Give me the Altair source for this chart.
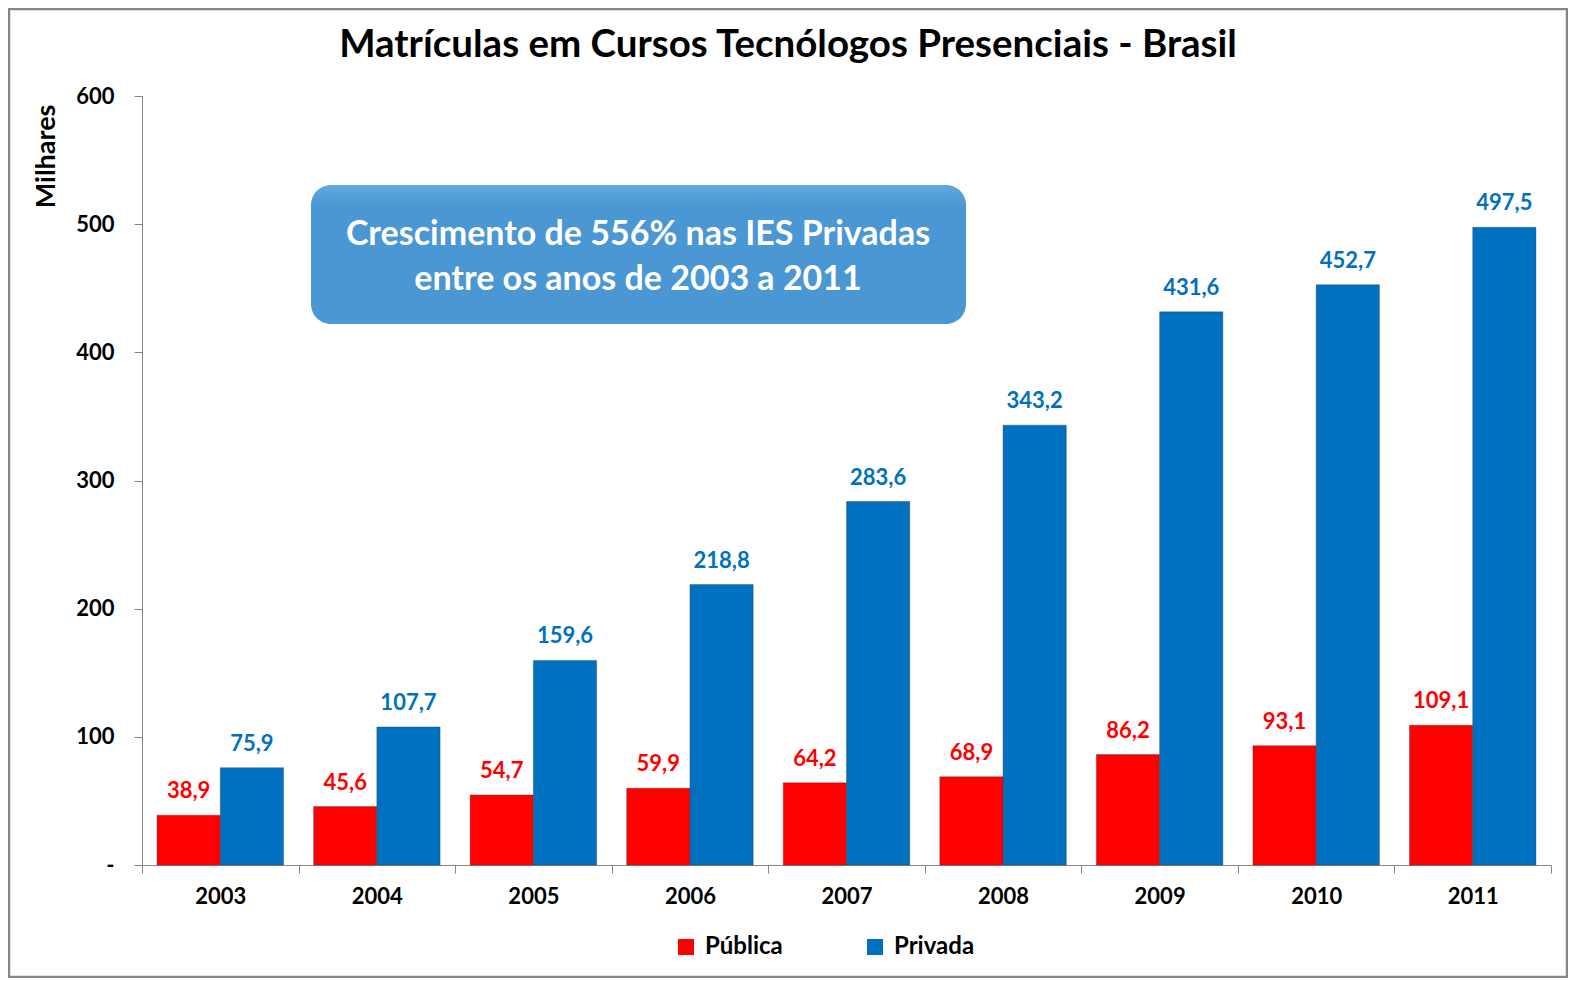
import altair as alt
import pandas as pd

years = ["2003", "2004", "2005", "2006", "2007", "2008", "2009", "2010", "2011"]
publica = [38.9, 45.6, 54.7, 59.9, 64.2, 68.9, 86.2, 93.1, 109.1]
privada = [75.9, 107.7, 159.6, 218.8, 283.6, 343.2, 431.6, 452.7, 497.5]
series = ["Pública", "Privada"]
colors = ["#FF0000", "#0070C0"]
y_ticks = [0, 100, 200, 300, 400, 500, 600]
title_text = "Matrículas em Cursos Tecnólogos Presenciais - Brasil"
note_lines = ["Crescimento de 556% nas IES Privadas", "entre os anos de 2003 a 2011"]

rows = []
for i, yr in enumerate(years):
    for s, vals in zip(series, [publica, privada]):
        rows.append({"ano": yr, "serie": s, "valor": vals[i],
                     "rotulo": f"{vals[i]:.1f}".replace(".", ",")})
df = pd.DataFrame(rows)

FONT = "Lato"
W, H = 1409, 769
AXC = "#868686"

x = alt.X("ano:N", sort=years, title=None,
          scale=alt.Scale(paddingInner=0, paddingOuter=0),
          axis=alt.Axis(labelAngle=0, tickBand="extent", tickSize=8, domainColor=AXC,
                        tickColor=AXC, labelFontSize=22, labelFontWeight="bold",
                        labelColor="black", labelPadding=13, labelFont=FONT))
y = alt.Y("valor:Q", scale=alt.Scale(domain=[0, 600], nice=False),
          axis=alt.Axis(values=y_ticks, labelExpr="datum.value == 0 ? '-' : datum.label",
                        grid=False, tickSize=8, domainColor=AXC, tickColor=AXC,
                        labelFontSize=22, labelFontWeight="bold", labelColor="black",
                        labelPadding=20, labelFont=FONT,
                        title="Milhares", titleFont=FONT, titleFontSize=27,
                        titleFontWeight="bold", titleColor="black", titleAngle=-90,
                        titleX=-96, titleY=8, titleAlign="right", titleBaseline="middle"))
xoff = alt.XOffset("serie:N", scale=alt.Scale(domain=series, paddingInner=0, paddingOuter=0.2375))

base = alt.Chart(df)
bars = base.mark_bar(strokeWidth=1, strokeOpacity=0.35, stroke="#333333").encode(
    x=x, y=y, xOffset=xoff,
    color=alt.Color("serie:N", scale=alt.Scale(domain=series, range=colors),
                    legend=alt.Legend(title=None, orient="none", legendX=532, legendY=839,
                                      direction="horizontal", symbolType="square",
                                      symbolSize=256, symbolStrokeWidth=0,
                                      labelFont=FONT, labelFontSize=24,
                                      labelFontWeight="bold", labelColor="black",
                                      columnPadding=80, labelOffset=7)),
)
labels = base.mark_text(baseline="alphabetic", dy=-17, fontSize=22, fontWeight="bold",
                        font=FONT).encode(
    x=x, y=y, xOffset=xoff, text="rotulo:N",
    color=alt.condition(alt.datum.serie == "Pública", alt.value(colors[0]), alt.value(colors[1])),
)

one = pd.DataFrame({"k": [0]})
box = alt.Chart(one).mark_rect(
    cornerRadius=20,
    color=alt.Gradient(gradient="linear", x1=0, x2=0, y1=0, y2=1,
                       stops=[alt.GradientStop(color="#62A9DD", offset=0),
                              alt.GradientStop(color="#4A97D3", offset=0.15),
                              alt.GradientStop(color="#4A97D3", offset=1)])
).encode(x=alt.value(169), x2=alt.value(824), y=alt.value(89), y2=alt.value(228))
note1 = alt.Chart(one).mark_text(text=note_lines[0], font=FONT, fontSize=34, fontWeight="bold",
                                 color="white", baseline="middle", align="center").encode(
    x=alt.value(496), y=alt.value(139))
note2 = alt.Chart(one).mark_text(text=note_lines[1], font=FONT, fontSize=34, fontWeight="bold",
                                 color="white", baseline="middle", align="center").encode(
    x=alt.value(496), y=alt.value(184))
title = alt.Chart(one).mark_text(text=title_text, font=FONT, fontSize=38.5, fontWeight="bold",
                                 color="black", baseline="alphabetic", align="center").encode(
    x=alt.value(646), y=alt.value(-39))
border = alt.Chart(one).mark_rect(filled=False, stroke=AXC, strokeWidth=2.5).encode(
    x=alt.value(-133), x2=alt.value(W + 16), y=alt.value(-87), y2=alt.value(H + 112))

chart = alt.layer(bars, labels, box, note1, note2, title, border).properties(
    width=W, height=H,
    autosize=alt.AutoSizeParams(type="none"),
    padding={"left": 134, "top": 88, "right": 17, "bottom": 113},
).configure_view(stroke=None)

chart.save("out.html", embed_options={"renderer": "svg", "actions": False})
